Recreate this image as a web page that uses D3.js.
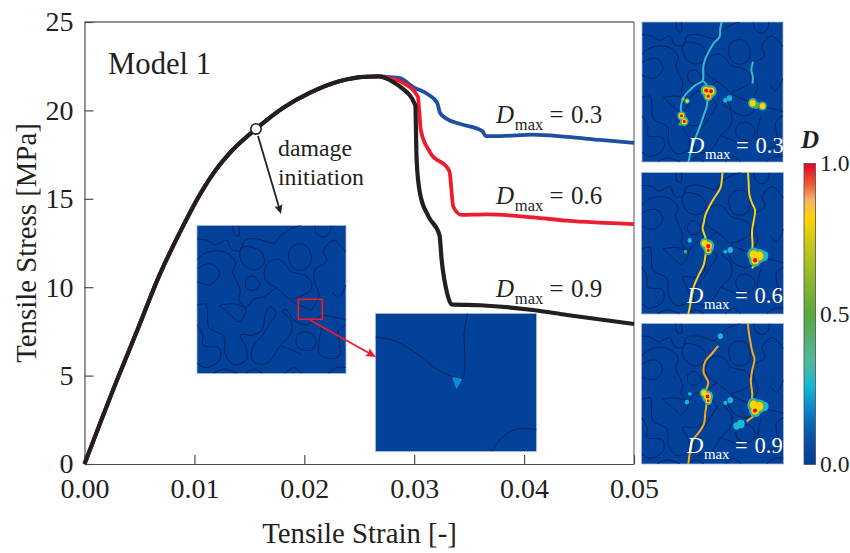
<!DOCTYPE html>
<html>
<head>
<meta charset="utf-8">
<script src="https://cdn.jsdelivr.net/npm/d3@7"></script>
<style>
html, body { margin: 0; padding: 0; background: #fff; }
svg { display: block; }
text { font-family: "Liberation Serif", serif; fill: #231f20; }
</style>
</head>
<body>
<div id="content"></div>
<script>
// values
var strainTicks = [0, 0.01, 0.02, 0.03, 0.04, 0.05];
var stressTicks = [0, 5, 10, 15, 20, 25];

// curve shared by all three runs, up to the peak
var sharedStrain = [0, 0.00308, 0.0046, 0.00687, 0.00884, 0.01051, 0.01203, 0.01354, 0.0156, 0.01809, 0.02052, 0.02325, 0.02537, 0.0268];
var sharedStress = [0, 4.94, 7.25, 10.75, 13.3, 15.25, 16.7, 17.8, 18.95, 20.15, 21.0, 21.66, 21.9, 21.93];

var blueStrain = [0.0275, 0.0287, 0.0299, 0.0312, 0.0321, 0.03235, 0.033, 0.0342, 0.0362, 0.0365, 0.0378, 0.0408, 0.0439, 0.0469, 0.05];
var blueStress = [21.9, 21.82, 21.32, 20.93, 20.42, 19.85, 19.51, 19.23, 18.83, 18.55, 18.55, 18.63, 18.5, 18.33, 18.16];

var redStrain = [0.0275, 0.0288, 0.03033, 0.03045, 0.0306, 0.0314, 0.0332, 0.03356, 0.0343, 0.0366, 0.0408, 0.0439, 0.05];
var redStress = [21.85, 21.62, 20.78, 20.02, 18.89, 17.67, 16.57, 14.55, 14.09, 14.12, 13.95, 13.76, 13.57];

var blackStrain = [0.0275, 0.0281, 0.0288, 0.0301, 0.03022, 0.03053, 0.0313, 0.0323, 0.0325, 0.033, 0.0334, 0.036, 0.0408, 0.0439, 0.05];
var blackStress = [21.8, 21.6, 21.3, 20.3, 17.2, 15.3, 14.0, 12.95, 11.54, 9.65, 9.03, 8.98, 8.71, 8.43, 7.92];

var initStrain = 0.0156;
var initStress = 18.95;

// damage colour key
var damageStops = [0, 0.1, 0.18, 0.26, 0.34, 0.5, 0.7, 0.82, 0.88, 0.93, 1];
var damageColors = ["#023c96", "#0a55ac", "#0a82c8", "#16b8d6", "#4fb8a0", "#5aa83c", "#b4c41e", "#ffd400", "#f5b26a", "#ee5a32", "#e4002b"];
var damageLabels = [0, 0.5, 1];

// grain outlines, 0-100 across the square micrograph
var openOutlines = [
    [[0,9],[7,10],[12,13],[20,10],[23,16],[29,17],[32,10],[40,9],[50,12],[52,12],[57,6],[66,1],[70,0]],
    [[24,0],[25,6],[28,7],[28,0]],
    [[79,0],[80,5],[85,8],[89,5],[90,0]],
    [[100,18],[92,10],[85,17],[87,24],[79,30],[79,38],[82,47],[80,52],[77,57]],
    [[45,32],[48,25],[55,23],[60,27],[63,31],[73,34],[77,39],[76,44],[69,48],[63,50]],
    [[45,32],[46,37],[53,42],[59,47],[65,52],[77,57]],
    [[0,29],[7,26],[12,27],[15,33],[9,40],[0,38]],
    [[0,23],[7,18],[19,18],[26,25],[24,31],[29,44],[28,50],[33,56]],
    [[33,56],[38,50],[45,48],[53,42]],
    [[15,54],[25,53],[33,57],[28,65],[22,60],[15,54]],
    [[0,54],[6,53],[7,60],[8,69],[18,75],[19,87],[25,94],[33,91],[33,83],[29,74],[38,74],[44,70],[46,59],[49,55],[53,59],[49,66],[44,74],[37,83],[38,92],[47,93],[56,81],[63,73],[63,64],[57,58],[60,57],[65,64],[74,67],[84,61],[100,64]],
    [[0,67],[4,74],[4,81],[15,83],[15,91],[6,96],[0,93]],
    [[84,68],[82,78],[82,87],[91,90],[96,87],[95,71],[100,67]],
    [[11,100],[18,97],[27,100]],
    [[33,100],[38,97],[44,100]],
    [[59,100],[65,96],[70,100]],
    [[88,100],[94,96],[100,96]],
    [[91,45],[95,49],[100,40]],
    [[56,81],[63,84],[70,87]]
];
var closedOutlines = [
    [[30,15],[38,15],[44,19],[45,26],[39,30],[33,28],[29,22]],
    [[62,17],[66,13],[72,13],[76,18],[76,26],[71,30],[65,29],[62,24]],
    [[33,36],[37,34],[41,37],[42,41],[37,44],[33,42]],
    [[67,75],[71,72],[77,73],[80,78],[77,84],[71,84],[67,81]]
];

// cracks in the three damage panels
var cracks03 = [
    [[56.5,0],[55.5,5],[55,10.6],[51,15],[48,20],[45,26],[43.5,32],[43.5,37],[43,42],[38,45],[34,48.6],[30,53],[28,58],[27.5,62],[28,66]],
    [[43,42],[46,45],[47,48.6],[46.5,55],[46,60],[44,66],[42,72],[39,80],[36.5,86.5],[34.5,93],[33,100]],
    [[78.8,28.4],[77.6,34],[78.6,39],[78.4,44]]
];
var cracks06 = [
    [[57,0],[56.5,6],[55.5,11],[50,20],[45,30],[44,35],[43,39.5],[45,46],[46,52.5],[45,59],[43.8,65.4],[40,73],[36.8,80.7],[35,90],[33,100]],
    [[75,0],[75.5,8],[76,16],[78,22],[80,26.6],[79,34],[77.8,42],[78.2,50],[77.8,58]],
    [[81,62],[80,65],[77.8,67.8]]
];
var cracks09 = [
    [[54,16],[50,21],[45,26.8],[43.8,35],[47,42],[45,49.4],[46,55],[45,63],[43.8,72],[40,78],[35.6,83.8],[34,92],[33,100]],
    [[75,0],[75.5,6],[76.6,12.6],[78,20],[79.6,25.6],[78,33],[77,41],[78,50],[77.7,59],[81,63.6],[77,67.5],[74,69.6]]
];

// damage hot spots: u, v, radius, peak damage
var spots03 = [[45.5,49,2.6,1],[49,49.5,2.6,1],[47,53,2.2,1],[28,67,2,1],[30,71,2,1],[32,56.5,1.2,0.85],[29,55,0.8,1],[78.5,58,2.2,0.85],[81,59.5,1.6,0.5],[85.5,60,2,0.82],[62,54.5,1.3,0.3],[59,56,1,0.3],[27,73,0.7,0.7]];
var spots06 = [[44.5,50,2.2,0.85],[47,52,2.8,1],[47,55,2,1],[79,58,3,0.85],[80,62,2.8,1],[83,59,3,0.85],[86,59,2.2,0.3],[62.5,54.8,1.3,0.3],[59,56,0.9,0.3],[34,48,1,0.3],[31,56,0.8,0.7]];
var spots09 = [[44,49.5,2,0.85],[46.5,52,2.6,1],[47,55,1.8,1],[79,58,3,0.85],[80,62,2.8,1],[83,59,3,0.85],[86.5,59,2,0.3],[67,73,1.6,0.26],[70,71.5,1.8,0.3],[62.5,54.6,1.3,0.3],[59,56.5,0.9,0.3],[32,56,1,0.3],[34,50,0.8,0.3],[55.5,9,1.2,0.3]];

// zoomed view of the damage onset
var detailLines = [
    [[0,17.3],[10,19],[22.5,26.5],[39,41],[48.5,46],[54,47],[55.6,35],[55,15.7],[57,0]],
    [[72,100],[78.5,90],[87,84],[100,84]]
];
var detailTriangle = [[47.7,46],[54,47.5],[50.2,54.7]];

var svg = d3.select("#content")
    .append("svg")
    .attr("width", 850)
    .attr("height", 553);

var defs = svg.append("defs");

var xScale = d3.scaleLinear().domain([0, 0.05]).range([84.5, 634]);
var yScale = d3.scaleLinear().domain([0, 25]).range([464, 22]);

// frame and axes
svg.append("line").attr("x1", 84.5).attr("x2", 634).attr("y1", 22).attr("y2", 22).attr("stroke", "#6d6e70").attr("stroke-width", 1.4);
svg.append("line").attr("x1", 634).attr("x2", 634).attr("y1", 22).attr("y2", 464).attr("stroke", "#6d6e70").attr("stroke-width", 1.2);

var xAxis = d3.axisBottom(xScale)
    .tickValues(strainTicks)
    .tickFormat(d3.format(".2f"))
    .tickSizeInner(-9)
    .tickSizeOuter(0)
    .tickPadding(14);
var yAxis = d3.axisLeft(yScale)
    .tickValues(stressTicks)
    .tickFormat(d3.format("d"))
    .tickSizeInner(-9)
    .tickSizeOuter(0)
    .tickPadding(11);

var gx = svg.append("g").attr("transform", "translate(0,464)").call(xAxis);
var gy = svg.append("g").attr("transform", "translate(84.5,0)").call(yAxis);
[gx, gy].forEach(function(g) {
    g.selectAll("path, line").attr("stroke", "#4d4d4f").attr("stroke-width", 1.2);
    g.selectAll("text").style("font-family", '"Liberation Serif", serif').style("font-size", "28px").attr("fill", "#231f20");
});

svg.append("text").attr("x", 359.5).attr("y", 543).attr("text-anchor", "middle")
    .style("font-size", "28.8px").text("Tensile Strain [-]");
svg.append("text").attr("transform", "translate(36,243) rotate(-90)").attr("text-anchor", "middle")
    .style("font-size", "28.8px").text("Tensile Stress [MPa]");
svg.append("text").attr("x", 108).attr("y", 74).style("font-size", "30.7px").text("Model 1");
svg.append("text").attr("x", 278).attr("y", 156).style("font-size", "23.8px").text("damage");
svg.append("text").attr("x", 278).attr("y", 185).style("font-size", "23.8px").text("initiation");

// one micrograph panel: blue square, grain outlines, cracks, hot spots
var damageColor = d3.scaleLinear().domain(damageStops).range(damageColors);
var spotLevels = [[0.26, 1.5], [0.5, 1.2], [0.82, 0.95], [1, 0.5]];
var panelCount = 0;

function drawPanel(x0, y0, x1, y1, cracks, crackColor, spots) {
    var u = d3.scaleLinear().domain([0, 100]).range([x0, x1]);
    var v = d3.scaleLinear().domain([0, 100]).range([y0, y1]);
    var id = "panel" + (panelCount++);
    defs.append("clipPath").attr("id", id).append("rect")
        .attr("x", x0).attr("y", y0).attr("width", x1 - x0).attr("height", y1 - y0);
    var g = svg.append("g");
    g.append("rect").attr("x", x0).attr("y", y0).attr("width", x1 - x0).attr("height", y1 - y0)
        .attr("fill", "#03429b").attr("stroke", "#a9b8d8").attr("stroke-width", 0.8);
    var inner = g.append("g").attr("clip-path", "url(#" + id + ")");

    var openLine = d3.line().x(function(d) { return u(d[0]); }).y(function(d) { return v(d[1]); }).curve(d3.curveCatmullRom);
    var closedLine = d3.line().x(function(d) { return u(d[0]); }).y(function(d) { return v(d[1]); }).curve(d3.curveCatmullRomClosed);

    inner.selectAll(".open").data(openOutlines).enter().append("path")
        .attr("d", openLine).attr("fill", "none").attr("stroke", "#0a1f5c").attr("stroke-width", 0.9);
    inner.selectAll(".closed").data(closedOutlines).enter().append("path")
        .attr("d", closedLine).attr("fill", "none").attr("stroke", "#0a1f5c").attr("stroke-width", 0.9);

    inner.selectAll(".crack").data(cracks).enter().append("path")
        .attr("d", openLine).attr("fill", "none").attr("stroke", crackColor).attr("stroke-width", 2);

    // each level over all spots, so neighbouring spots merge into one patch
    spotLevels.forEach(function(level) {
        spots.forEach(function(s) {
            if (level[0] > s[3] + 0.03) return;
            inner.append("ellipse")
                .attr("cx", u(s[0])).attr("cy", v(s[1]))
                .attr("rx", u(s[2] * level[1]) - u(0)).attr("ry", v(s[2] * level[1] * 1.1) - v(0))
                .attr("fill", damageColor(level[0]));
        });
    });
    return g;
}

// D max label; gaps follow the spacing of the original lettering
function panelLabel(x, y, size, color, value) {
    var t = svg.append("text").attr("x", x).attr("y", y).style("fill", color).style("font-size", size + "px");
    t.append("tspan").style("font-style", "italic").text("D");
    t.append("tspan").attr("dx", size * 0.03).attr("dy", size * 0.28).style("font-size", (size * 0.66) + "px").text("max");
    t.append("tspan").attr("dx", size * 0.25).attr("dy", -size * 0.28).text("=");
    t.append("tspan").attr("dx", size * 0.3).text(value);
}

// the three curves, black last
var curveLine = d3.line()
    .x(function(d) { return xScale(d[0]); })
    .y(function(d) { return yScale(d[1]); })
    .curve(d3.curveMonotoneX);

function fullCurve(strain, stress) {
    return d3.zip(sharedStrain.concat(strain), sharedStress.concat(stress));
}

// insets sit under the curves
drawPanel(197, 225.5, 346, 373.5, [], "none", []);
var detailU = d3.scaleLinear().domain([0, 100]).range([375.5, 536.5]);
var detailV = d3.scaleLinear().domain([0, 100]).range([313.5, 451.5]);
svg.append("rect").attr("x", 375.5).attr("y", 313.5).attr("width", 161).attr("height", 138)
    .attr("fill", "#03429b").attr("stroke", "#a9b8d8").attr("stroke-width", 0.8);
var detailPath = d3.line().x(function(d) { return detailU(d[0]); }).y(function(d) { return detailV(d[1]); });
svg.selectAll(".detail").data(detailLines).enter().append("path")
    .attr("d", function(d) { return detailPath.curve(d3.curveCatmullRom)(d); })
    .attr("fill", "none").attr("stroke", "#0b2356").attr("stroke-width", 1);
svg.append("path").attr("d", detailPath.curve(d3.curveLinearClosed)(detailTriangle)).attr("fill", "#0a8fd8");

svg.append("rect").attr("x", 298.3).attr("y", 299.3).attr("width", 24).attr("height", 20)
    .attr("fill", "none").attr("stroke", "#ed1c2e").attr("stroke-width", 1.6);

[[blueStrain, blueStress, "#1f4fa3", 3.8], [redStrain, redStress, "#ed1c2e", 3.8], [blackStrain, blackStress, "#231f20", 4.2]].forEach(function(s) {
    svg.append("path")
        .attr("d", curveLine(fullCurve(s[0], s[1])))
        .attr("fill", "none")
        .attr("stroke", s[2])
        .attr("stroke-width", s[3])
        .attr("stroke-linejoin", "round");
});

svg.append("circle").attr("cx", xScale(initStrain)).attr("cy", yScale(initStress)).attr("r", 5.2)
    .attr("fill", "#fff").attr("stroke", "#231f20").attr("stroke-width", 1.6);

// arrows
function arrow(x1, y1, x2, y2, color, width, head) {
    var a = Math.atan2(y2 - y1, x2 - x1);
    svg.append("line").attr("x1", x1).attr("y1", y1)
        .attr("x2", x2 - Math.cos(a) * head * 0.7).attr("y2", y2 - Math.sin(a) * head * 0.7)
        .attr("stroke", color).attr("stroke-width", width);
    var p = [[x2, y2],
        [x2 - head * Math.cos(a - 0.42), y2 - head * Math.sin(a - 0.42)],
        [x2 - head * 0.75 * Math.cos(a), y2 - head * 0.75 * Math.sin(a)],
        [x2 - head * Math.cos(a + 0.42), y2 - head * Math.sin(a + 0.42)]];
    svg.append("polygon").attr("points", p.join(" ")).attr("fill", color);
}
arrow(258, 136, 281, 214, "#231f20", 1.8, 10);
arrow(310, 320, 376, 357, "#ed1c2e", 1.8, 11);

panelLabel(496, 123, 25, "#231f20", "0.3");
panelLabel(496, 204, 25, "#231f20", "0.6");
panelLabel(496, 297, 25, "#231f20", "0.9");

// damage panels on the right
drawPanel(642, 22, 783, 162, cracks03, "#35bcd0", spots03);
drawPanel(641.5, 172.5, 783.5, 314, cracks06, "#f6cf18", spots06);
drawPanel(641.5, 323.5, 783.5, 464, cracks09, "#f2aa20", spots09);

panelLabel(688, 153, 22.5, "#fff", "0.3");
panelLabel(687, 303, 22.5, "#fff", "0.6");
panelLabel(687, 453, 22.5, "#fff", "0.9");

// colour bar
var barScale = d3.scaleLinear().domain([0, 1]).range([464.5, 163.5]);
var gradient = defs.append("linearGradient").attr("id", "damageGradient")
    .attr("x1", 0).attr("y1", 1).attr("x2", 0).attr("y2", 0);
gradient.selectAll("stop").data(damageStops).enter().append("stop")
    .attr("offset", function(d) { return d; })
    .attr("stop-color", function(d) { return damageColor(d); });
svg.append("rect").attr("x", 804).attr("y", barScale(1)).attr("width", 11.5).attr("height", barScale(0) - barScale(1))
    .attr("fill", "url(#damageGradient)").attr("stroke", "#4d4d4f").attr("stroke-width", 0.8);
svg.selectAll(".barLabel").data(damageLabels).enter().append("text")
    .attr("x", 820)
    .attr("y", function(d) { return barScale(d) + 7.5; })
    .style("font-size", "23.5px")
    .text(d3.format(".1f"));
svg.append("text").attr("x", 801).attr("y", 148)
    .style("font-size", "25px").style("font-style", "italic").style("font-weight", "bold").text("D");
</script>
</body>
</html>
